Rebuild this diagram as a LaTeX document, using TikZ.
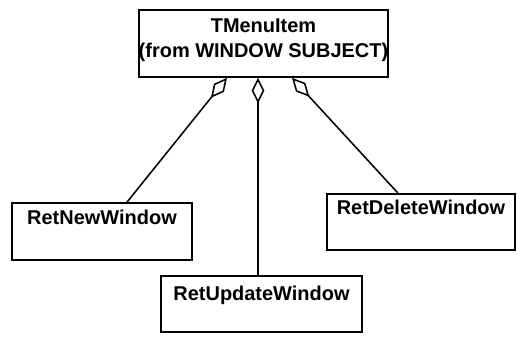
\documentclass[tikz,border=0pt]{standalone}
\usepackage{fontspec}
\setmainfont{Liberation Sans}
\usepackage{tikz}
\usetikzlibrary{arrows.meta, positioning, calc}

\begin{document}
\begin{tikzpicture}[
    classbox/.style={draw, line width=1.2pt, inner sep=0pt, align=center,
                     font=\fontsize{14.2}{17.8}\selectfont\bfseries},
    aggr/.style={line width=1.1pt, -{Diamond[open, length=6.4mm, width=3.2mm, line width=1.1pt]}}
]
    \useasboundingbox (0,0) rectangle (12.925,8.425);

    % Parent class
    \node[classbox, minimum width=6.225cm, text height=1.2cm, text depth=0.475cm]
        (menuitem) at (6.5875, 7.3375) {TMenuItem\\(from WINDOW SUBJECT)};

    % Child classes
    \node[classbox, minimum width=4.5cm, text height=0.55cm, text depth=0.875cm]
        (newwin) at (2.55, 2.6375) {RetNewWindow};
    \node[classbox, minimum width=4.7cm, text height=0.525cm, text depth=0.875cm]
        (deletewin) at (10.525, 2.875) {RetDeleteWindow};
    \node[classbox, minimum width=5.025cm, text height=0.625cm, text depth=0.775cm]
        (updatewin) at (6.5375, 0.825) {RetUpdateWindow};

    % Aggregation links
    \draw[aggr] ([xshift=0.625cm]newwin.north) -- ([xshift=-0.9125cm]menuitem.south);
    \draw[aggr] ([xshift=-0.0875cm]updatewin.north) -- ([xshift=-0.1375cm]menuitem.south);
    \draw[aggr] ([xshift=-0.575cm]deletewin.north) -- ([xshift=0.7125cm]menuitem.south);
\end{tikzpicture}
\end{document}
